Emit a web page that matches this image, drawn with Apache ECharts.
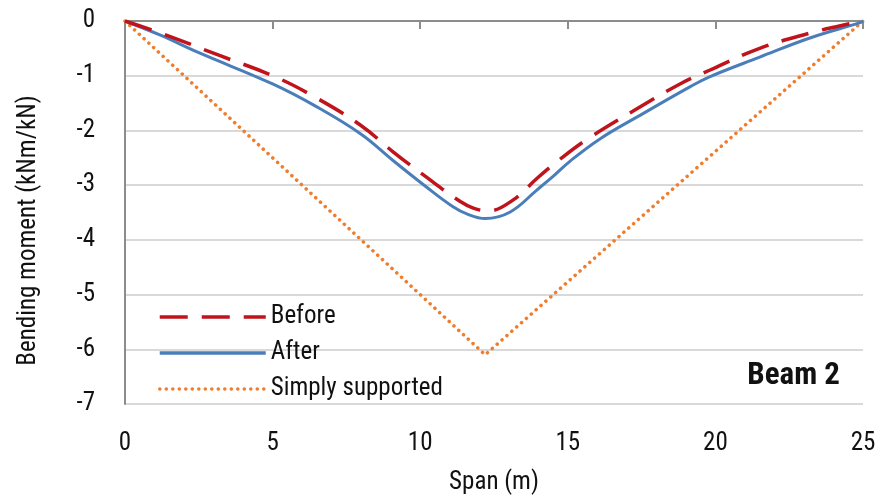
<!DOCTYPE html>
<html>
<head>
<meta charset="utf-8">
<script src="https://cdn.jsdelivr.net/npm/echarts@6/dist/echarts.min.js"></script>
<style>html,body{margin:0;padding:0;background:#fff}#c{width:890px;height:503px}</style>
</head>
<body>
<div id="c"></div>
<script>
var FONT = "'Roboto Condensed', 'DejaVu Sans Condensed', 'Liberation Sans Narrow', Roboto, sans-serif";

var spanBefore = [0, 1.3, 3.2, 5.0, 6.3, 7.97, 9.08, 10.2, 11.36, 11.8, 12.3, 13.15, 13.97, 14.75, 15.66, 17.2, 18.8, 19.8, 21.5, 23.2, 24.2, 25];
var momentBefore = [0, -0.24, -0.63, -1.0, -1.35, -1.9, -2.39, -2.85, -3.3, -3.42, -3.47, -3.27, -2.87, -2.52, -2.16, -1.65, -1.15, -0.9, -0.5, -0.22, -0.09, 0];

var spanAfter = [0, 1.2, 2.5, 5.0, 6.5, 8.0, 9.08, 10.2, 11.1, 11.6, 12.2, 13.05, 13.95, 14.5, 15.08, 16.1, 17.46, 19.15, 19.8, 21.5, 23.2, 24.9, 25];
var momentAfter = [0, -0.26, -0.58, -1.15, -1.57, -2.07, -2.55, -3.03, -3.39, -3.53, -3.61, -3.49, -3.09, -2.84, -2.56, -2.15, -1.72, -1.2, -1.02, -0.66, -0.31, -0.03, 0];

var spanSimple = [0, 12.2, 25];
var momentSimple = [0, -6.1, 0];

var xTicks = [0, 5, 10, 15, 20, 25];
var yTicks = [0, -1, -2, -3, -4, -5, -6, -7];

function pairs(xs, ys) { return xs.map(function (x, i) { return [x, ys[i]]; }); }

var chart = echarts.init(document.getElementById('c'), null, {renderer: 'canvas'});
chart.setOption({
  animation: false,
  backgroundColor: '#ffffff',
  textStyle: {fontFamily: FONT},
  grid: {left: 125, right: 27, top: 21, bottom: 99, containLabel: false},
  xAxis: {
    type: 'value', min: xTicks[0], max: xTicks[xTicks.length - 1], interval: 5,
    name: 'Span (m)', nameLocation: 'middle', nameGap: 66,
    nameTextStyle: {fontSize: 25, color: '#111', fontFamily: FONT},
    axisLine: {show: true, lineStyle: {color: '#8c8c8c', width: 2}},
    axisTick: {show: true, length: 8, inside: false, lineStyle: {color: '#8c8c8c', width: 2}},
    axisLabel: {fontSize: 25, color: '#111', margin: 27, fontFamily: FONT},
    splitLine: {show: false}
  },
  yAxis: {
    type: 'value', min: yTicks[yTicks.length - 1], max: yTicks[0], interval: 1,
    name: 'Bending moment (kNm/kN)', nameLocation: 'middle', nameGap: 84,
    nameTextStyle: {fontSize: 25, color: '#111', fontFamily: FONT, padding: [0, 36, 0, 0]},
    axisLine: {show: true, lineStyle: {color: '#8c8c8c', width: 2}},
    axisTick: {show: false},
    axisLabel: {fontSize: 25, color: '#111', margin: 30, fontFamily: FONT},
    splitLine: {show: true, lineStyle: {color: '#d9d9d9', width: 2}}
  },
  legend: {
    orient: 'vertical', left: 153, top: 299,
    itemWidth: 106, itemHeight: 26, itemGap: 10,
    itemStyle: {opacity: 0},
    lineStyle: {width: 3.5},
    textStyle: {fontSize: 25, color: '#111', fontFamily: FONT, lineHeight: 26},
    data: ['Before', 'After', 'Simply supported']
  },
  graphic: [{
    type: 'text', right: 50, top: 361,
    style: {text: 'Beam 2', fontSize: 31, fontWeight: 'bold', fill: '#111', fontFamily: FONT}
  }],
  series: [
    {
      name: 'Simply supported', type: 'line', symbol: 'none', z: 1,
      data: pairs(spanSimple, momentSimple),
      itemStyle: {color: '#ef7d2d'},
      lineStyle: {color: '#ef7d2d', width: 3.5, type: [0.1, 6.4], cap: 'round'}
    },
    {
      name: 'Before', type: 'line', symbol: 'none', smooth: 0.4, z: 3,
      data: pairs(spanBefore, momentBefore),
      itemStyle: {color: '#c0141c'},
      lineStyle: {color: '#c0141c', width: 3.5, type: [28, 14]}
    },
    {
      name: 'After', type: 'line', symbol: 'none', smooth: 0.4, z: 2,
      data: pairs(spanAfter, momentAfter),
      itemStyle: {color: '#4a7ebb'},
      lineStyle: {color: '#4a7ebb', width: 3}
    }
  ]
});
</script>
</body>
</html>
